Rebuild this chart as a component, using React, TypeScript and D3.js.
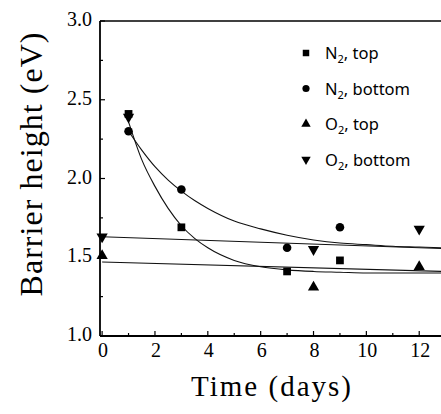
import React from "react";
import * as d3 from "d3";

// ---- data ----
const n2TopTime = [1, 3, 7, 9];
const n2TopHeight = [2.41, 1.69, 1.41, 1.48];
const n2BottomTime = [1, 3, 7, 9];
const n2BottomHeight = [2.3, 1.93, 1.56, 1.69];
const o2TopTime = [0, 8, 12];
const o2TopHeight = [1.51, 1.31, 1.44];
const o2BottomTime = [0, 1, 8, 12];
const o2BottomHeight = [1.63, 2.39, 1.55, 1.68];

// fitted curves
const fitN2TopTime = [1, 1.5, 2, 2.5, 3, 3.5, 4, 5, 6, 7, 8, 9, 10, 11, 12, 12.9];
const fitN2TopHeight = [2.36, 2.12, 1.95, 1.81, 1.7, 1.62, 1.56, 1.48, 1.44, 1.42, 1.41, 1.405, 1.4, 1.4, 1.4, 1.4];
const fitN2BottomTime = [1, 1.5, 2, 2.5, 3, 3.5, 4, 5, 6, 7, 8, 9, 10, 11, 12, 12.9];
const fitN2BottomHeight = [2.3, 2.18, 2.075, 1.99, 1.92, 1.86, 1.81, 1.73, 1.68, 1.64, 1.61, 1.59, 1.58, 1.57, 1.565, 1.56];
const fitO2TopTime = [0, 12.9];
const fitO2TopHeight = [1.47, 1.41];
const fitO2BottomTime = [0, 12.9];
const fitO2BottomHeight = [1.63, 1.555];

const xTicks = [0, 2, 4, 6, 8, 10, 12];
const xMinorTicks = [1, 3, 5, 7, 9, 11];
const yTicks = [1.0, 1.5, 2.0, 2.5, 3.0];
const yMinorTicks = [1.25, 1.75, 2.25, 2.75];

const legendItems = [
  { gas: "N", rest: ", top", shape: "square" },
  { gas: "N", rest: ", bottom", shape: "circle" },
  { gas: "O", rest: ", top", shape: "up" },
  { gas: "O", rest: ", bottom", shape: "down" },
];

const W = 441;
const H = 414;
const left = 100;
const right = 443;
const top = 21;
const bottom = 336;

const x = d3.scaleLinear().domain([-0.08, 12.9]).range([left, right]);
const y = d3.scaleLinear().domain([1.0, 3.0]).range([bottom, top]);

const sym = (shape: string, scale = 1) => {
  if (shape === "square") return d3.symbol(d3.symbolSquare, 60 * scale)()!;
  if (shape === "circle") return d3.symbol(d3.symbolCircle, 58 * scale)()!;
  return d3.symbol(d3.symbolTriangle, 55 * scale)()!;
};

function Marker({ cx, cy, shape, scale = 1 }: { cx: number; cy: number; shape: string; scale?: number }) {
  const rot = shape === "down" ? 180 : 0;
  return <path d={sym(shape, scale)} transform={`translate(${cx},${cy}) rotate(${rot})`} fill="#000" />;
}

export default function App() {
  const line = d3
    .line<[number, number]>()
    .x((d) => x(d[0]))
    .y((d) => y(d[1]))
    .curve(d3.curveMonotoneX);
  const zip = (a: number[], b: number[]) => a.map((v, i) => [v, b[i]] as [number, number]);

  const fits = [
    zip(fitN2TopTime, fitN2TopHeight),
    zip(fitN2BottomTime, fitN2BottomHeight),
    zip(fitO2TopTime, fitO2TopHeight),
    zip(fitO2BottomTime, fitO2BottomHeight),
  ];
  const series = [
    { t: n2TopTime, v: n2TopHeight, shape: "square" },
    { t: n2BottomTime, v: n2BottomHeight, shape: "circle" },
    { t: o2TopTime, v: o2TopHeight, shape: "up" },
    { t: o2BottomTime, v: o2BottomHeight, shape: "down" },
  ];

  const serif = "'Liberation Serif', 'Times New Roman', serif";

  return (
    <svg
      width={W}
      height={H}
      style={{ position: "absolute", left: 0, top: 0, background: "#fff" }}
    >
      <rect width={W} height={H} fill="#fff" />
      <defs>
        <clipPath id="plot">
          <rect x={left} y={top} width={right - left} height={bottom - top} />
        </clipPath>
      </defs>

      {/* fit lines */}
      <g clipPath="url(#plot)">
        {fits.map((f, i) => (
          <path key={i} d={line(f)!} fill="none" stroke="#111" strokeWidth={1.1} />
        ))}
      </g>

      {/* frame */}
      <line x1={left} x2={right} y1={top} y2={top} stroke="#000" strokeWidth={1.6} />
      <line x1={left} x2={right} y1={bottom} y2={bottom} stroke="#000" strokeWidth={1.8} />
      <line x1={left} x2={left} y1={top} y2={bottom} stroke="#000" strokeWidth={1.8} />

      {/* x ticks */}
      {xTicks.map((t) => (
        <line key={"xt" + t} x1={x(t)} x2={x(t)} y1={bottom} y2={bottom - 5} stroke="#000" strokeWidth={1.2} />
      ))}
      {xMinorTicks.map((t) => (
        <line key={"xm" + t} x1={x(t)} x2={x(t)} y1={bottom} y2={bottom - 3} stroke="#000" strokeWidth={1.2} />
      ))}
      {xTicks.map((t) => (
        <text key={"xl" + t} x={x(t) + 1} y={357} fontFamily={serif} fontSize={20} textAnchor="middle" fill="#000">
          {t}
        </text>
      ))}

      {/* y ticks */}
      {yTicks.map((t) => (
        <line key={"yt" + t} x1={left} x2={left + 5} y1={y(t)} y2={y(t)} stroke="#000" strokeWidth={1.2} />
      ))}
      {yMinorTicks.map((t) => (
        <line key={"ym" + t} x1={left} x2={left + 3} y1={y(t)} y2={y(t)} stroke="#000" strokeWidth={1.2} />
      ))}
      {yTicks.map((t) => (
        <text key={"yl" + t} x={92} y={y(t) + 5} fontFamily={serif} fontSize={20} textAnchor="end" fill="#000">
          {t.toFixed(1)}
        </text>
      ))}

      {/* data markers */}
      {series.map((s, i) =>
        s.t.map((t, j) => <Marker key={i + "-" + j} cx={x(t)} cy={y(s.v[j])} shape={s.shape} />)
      )}

      {/* legend */}
      {legendItems.map((it, i) => {
        const cy = 53 + i * 35.5;
        return (
          <g key={"lg" + i}>
            <Marker cx={306} cy={cy} shape={it.shape} scale={0.7} />
            <text x={325} y={cy + 6} fontFamily="'Noto Sans', sans-serif" fontSize={16.5} fill="#000">
              {it.gas}
              <tspan fontSize={11} dy={4}>2</tspan>
              <tspan dy={-4}>{it.rest}</tspan>
            </text>
          </g>
        );
      })}

      {/* axis titles */}
      <text
        x={271}
        y={396}
        fontFamily={serif}
        fontSize={29}
        textAnchor="middle"
        textLength={160}
        lengthAdjust="spacing"
        fill="#000"
      >
        Time (days)
      </text>
      <text
        transform={`translate(42,${(32 + 297) / 2}) rotate(-90)`}
        fontFamily={serif}
        fontSize={32}
        textAnchor="middle"
        textLength={264}
        lengthAdjust="spacing"
        fill="#000"
      >
        Barrier height (eV)
      </text>
    </svg>
  );
}
